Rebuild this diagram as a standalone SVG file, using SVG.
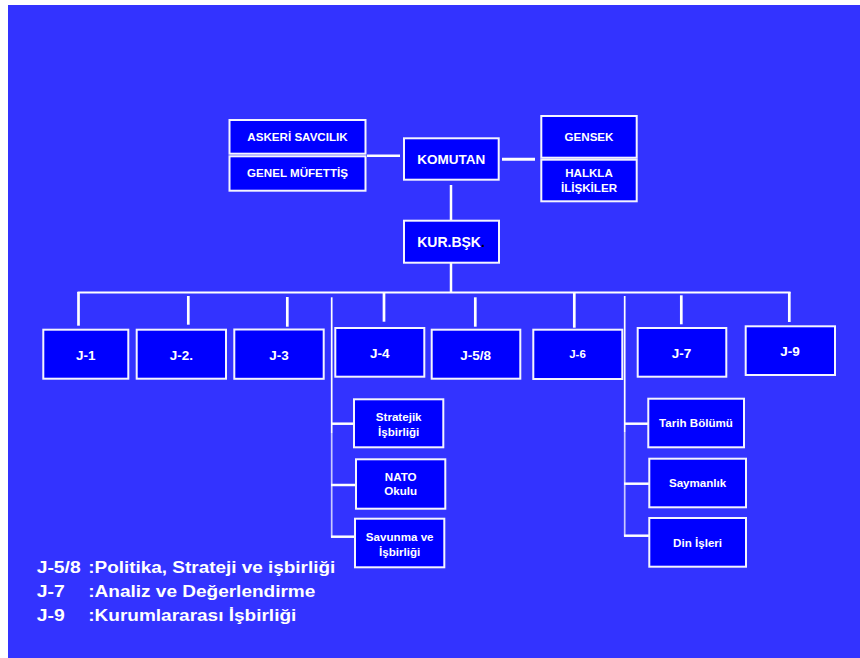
<svg xmlns="http://www.w3.org/2000/svg" width="860" height="658" viewBox="0 0 860 658">
  <style>
    .box { fill: #0000ff; stroke: #f4f4ff; stroke-width: 2; }
    .lbl { fill: #ffffff; font-family: "Liberation Sans", Arial, sans-serif; font-weight: bold; text-anchor: middle; }
    .s { font-size: 11.6px; }
    .m { font-size: 13.5px; }
    .j { font-size: 13.5px; }
    .leg { fill: #ffffff; font-family: "Liberation Sans", Arial, sans-serif; font-weight: bold; font-size: 16px; }
    .w { stroke: #ffffff; fill: none; }
    .faint { stroke: #c9c9ff; fill: none; }
  </style>

  <!-- page background -->
  <rect x="0" y="0" width="860" height="658" fill="#ffffff"/>
  <rect x="8" y="5" width="852" height="653" fill="#3333ff"/>

  <!-- connectors -->
  <g id="connectors">
    <line class="w" x1="367" y1="155.7" x2="400" y2="155.7" stroke-width="2.5"/>
    <line class="w" x1="502" y1="159.3" x2="535" y2="159.3" stroke-width="3"/>
    <line class="w" x1="451" y1="185" x2="451" y2="220" stroke-width="2.5"/>
    <line class="w" x1="451" y1="263" x2="451" y2="292.5" stroke-width="2.5"/>
    <!-- horizontal bus -->
    <line class="w" x1="77.5" y1="292.5" x2="790.5" y2="292.5" stroke-width="2"/>
    <!-- drops to J boxes -->
    <line class="w" x1="78.5" y1="292" x2="78.5" y2="325.7" stroke-width="2.7"/>
    <line class="w" x1="188.3" y1="296" x2="188.3" y2="324.7" stroke-width="2.7"/>
    <line class="w" x1="287.3" y1="297" x2="287.3" y2="326.7" stroke-width="2.7"/>
    <line class="w" x1="384" y1="292" x2="384" y2="321.7" stroke-width="2.7"/>
    <line class="w" x1="475.3" y1="297.3" x2="475.3" y2="326.7" stroke-width="2.7"/>
    <line class="w" x1="574.3" y1="292" x2="574.3" y2="327.7" stroke-width="2.7"/>
    <line class="w" x1="681.3" y1="295.3" x2="681.3" y2="324.3" stroke-width="2.7"/>
    <line class="w" x1="789.3" y1="292" x2="789.3" y2="322" stroke-width="2.7"/>
    <!-- left sub-branch spine -->
    <line class="w" x1="331.7" y1="297.3" x2="331.7" y2="433" stroke-width="1.7"/>
    <line class="faint" x1="331.7" y1="433" x2="331.7" y2="537.5" stroke-width="1.7"/>
    <line class="w" x1="331" y1="423.7" x2="354" y2="423.7" stroke-width="2.5"/>
    <line class="w" x1="331" y1="485" x2="356" y2="485" stroke-width="2.5"/>
    <line class="w" x1="331" y1="536.7" x2="356" y2="536.7" stroke-width="2.5"/>
    <!-- right sub-branch spine -->
    <line class="w" x1="624.7" y1="296" x2="624.7" y2="432" stroke-width="1.7"/>
    <line class="faint" x1="624.7" y1="432" x2="624.7" y2="536.5" stroke-width="1.7"/>
    <line class="w" x1="624" y1="423.7" x2="649" y2="423.7" stroke-width="2.5"/>
    <line class="w" x1="624" y1="483.7" x2="649" y2="483.7" stroke-width="2.5"/>
    <line class="w" x1="624" y1="535.7" x2="649" y2="535.7" stroke-width="2.5"/>
  </g>

  <!-- top level -->
  <g id="askeri-savcilik">
    <rect class="box" x="229.5" y="120" width="136" height="33.7"/>
    <text class="lbl s" x="297.5" y="140.7">ASKERİ SAVCILIK</text>
  </g>
  <g id="genel-mufettis">
    <rect class="box" x="229.5" y="156.3" width="136" height="34.4"/>
    <text class="lbl s" x="297.5" y="176.7">GENEL MÜFETTİŞ</text>
  </g>
  <g id="komutan">
    <rect class="box" x="404" y="138.3" width="94.7" height="41.4"/>
    <text class="lbl m" x="451.3" y="164">KOMUTAN</text>
  </g>
  <g id="gensek">
    <rect class="box" x="541.3" y="116" width="95.4" height="41.7"/>
    <text class="lbl s" x="589" y="140.7">GENSEK</text>
  </g>
  <g id="halkla-iliskiler">
    <rect class="box" x="541.3" y="159.7" width="95.4" height="41.6"/>
    <text class="lbl s" x="589" y="176.7">HALKLA</text>
    <text class="lbl s" x="589" y="191.7">İLİŞKİLER</text>
  </g>
  <g id="kur-bsk">
    <rect class="box" x="404" y="220.7" width="95" height="42"/>
    <text class="lbl" x="451" y="246.7" font-size="14px">KUR.BŞK<tspan fill="#000000">.</tspan></text>
  </g>

  <!-- J directorates -->
  <g id="j1">
    <rect class="box" x="43.3" y="329.7" width="85" height="49"/>
    <text class="lbl j" x="85.8" y="360">J-1</text>
  </g>
  <g id="j2">
    <rect class="box" x="136.7" y="329.7" width="89.3" height="49"/>
    <text class="lbl j" x="181.3" y="360">J-2.</text>
  </g>
  <g id="j3">
    <rect class="box" x="234.3" y="329.5" width="89.4" height="49.3"/>
    <text class="lbl j" x="279" y="360">J-3</text>
  </g>
  <g id="j4">
    <rect class="box" x="335.3" y="328" width="89" height="48.7"/>
    <text class="lbl j" x="379.8" y="357.7">J-4</text>
  </g>
  <g id="j58">
    <rect class="box" x="431.7" y="329.7" width="88.6" height="49"/>
    <text class="lbl j" x="475.7" y="360">J-5/8</text>
  </g>
  <g id="j6">
    <rect class="box" x="533.3" y="329.7" width="89" height="49.3"/>
    <text class="lbl" x="577.5" y="357.7" font-size="11.5px">J-6</text>
  </g>
  <g id="j7">
    <rect class="box" x="637.7" y="328" width="88.6" height="48.7"/>
    <text class="lbl j" x="681.5" y="357.7">J-7</text>
  </g>
  <g id="j9">
    <rect class="box" x="745.7" y="326.3" width="89.3" height="48.7"/>
    <text class="lbl j" x="790" y="355.7">J-9</text>
  </g>

  <!-- J-4 units -->
  <g id="stratejik-isbirligi">
    <rect class="box" x="354" y="399.3" width="89.3" height="48"/>
    <text class="lbl s" x="398.7" y="420.7">Stratejik</text>
    <text class="lbl s" x="398.7" y="435.7">İşbirliği</text>
  </g>
  <g id="nato-okulu">
    <rect class="box" x="356" y="459.3" width="89.3" height="49.4"/>
    <text class="lbl s" x="400.7" y="480.7">NATO</text>
    <text class="lbl s" x="400.7" y="495">Okulu</text>
  </g>
  <g id="savunma-isbirligi">
    <rect class="box" x="355" y="518.7" width="89.3" height="48.6"/>
    <text class="lbl s" x="399.7" y="540.7">Savunma ve</text>
    <text class="lbl s" x="399.7" y="555.7">İşbirliği</text>
  </g>

  <!-- J-6 units -->
  <g id="tarih-bolumu">
    <rect class="box" x="648.3" y="398.7" width="95.7" height="48.6"/>
    <text class="lbl s" x="696" y="426.7">Tarih Bölümü</text>
  </g>
  <g id="saymanlik">
    <rect class="box" x="649.3" y="458.7" width="96.7" height="48.6"/>
    <text class="lbl s" x="697.6" y="487.3">Saymanlık</text>
  </g>
  <g id="din-isleri">
    <rect class="box" x="649.3" y="518" width="96.7" height="48.7"/>
    <text class="lbl s" x="697.6" y="546.7">Din İşleri</text>
  </g>

  <!-- legend -->
  <g id="legend">
    <text class="leg" x="36.7" y="572.5" textLength="44" lengthAdjust="spacingAndGlyphs">J-5/8</text>
    <text class="leg" x="88.3" y="572.5" textLength="247" lengthAdjust="spacingAndGlyphs">:Politika, Strateji ve işbirliği</text>
    <text class="leg" x="36.7" y="597" textLength="28" lengthAdjust="spacingAndGlyphs">J-7</text>
    <text class="leg" x="88.3" y="597" textLength="227" lengthAdjust="spacingAndGlyphs">:Analiz ve Değerlendirme</text>
    <text class="leg" x="36.7" y="621" textLength="28" lengthAdjust="spacingAndGlyphs">J-9</text>
    <text class="leg" x="88.3" y="621" textLength="208" lengthAdjust="spacingAndGlyphs">:Kurumlararası İşbirliği</text>
  </g>
</svg>
